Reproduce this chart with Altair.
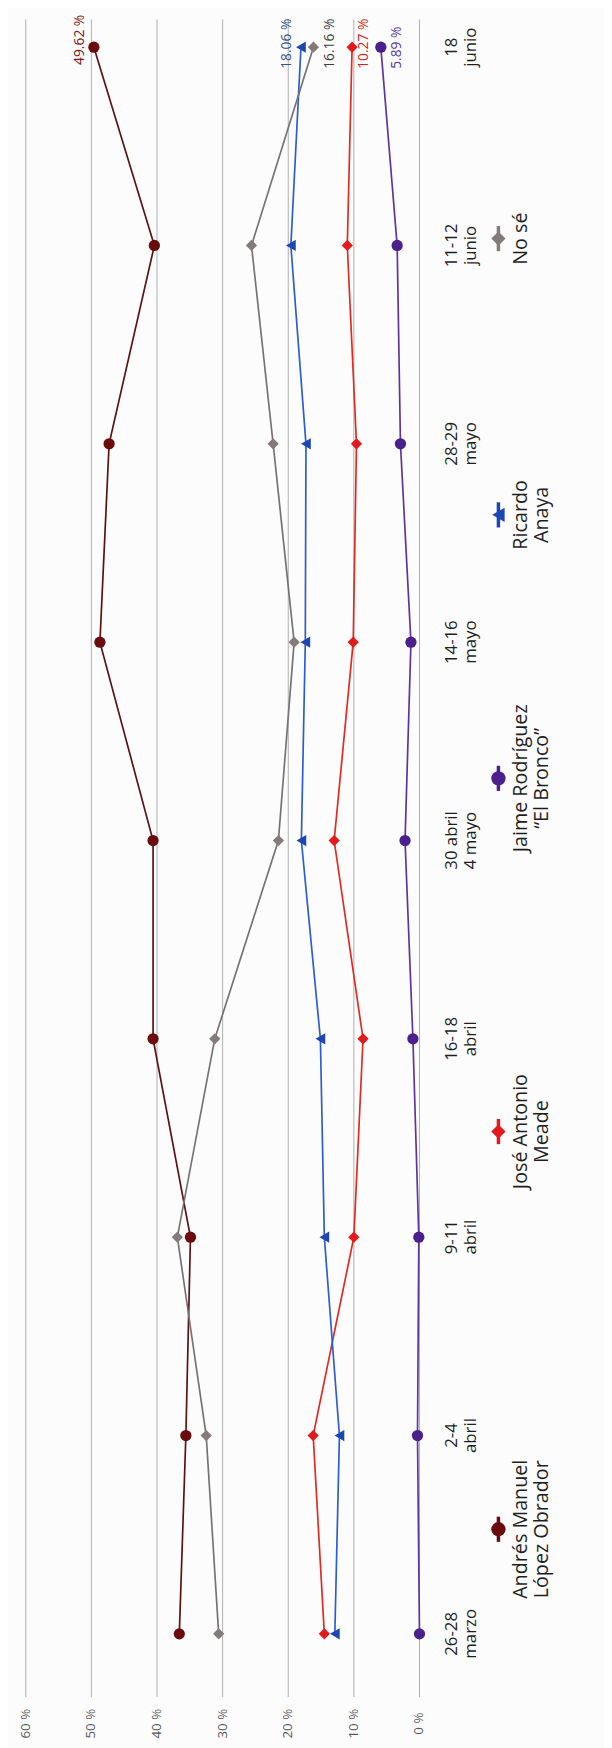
import altair as alt
import pandas as pd

# ---- data ----
dates = ["26-28\nmarzo", "2-4\nabril", "9-11\nabril", "16-18\nabril", "30 abril\n4 mayo",
         "14-16\nmayo", "28-29\nmayo", "11-12\njunio", "18\njunio"]
amlo = [36.6, 35.6, 34.9, 40.6, 40.6, 48.7, 47.3, 40.4, 49.62]
meade = [14.5, 16.2, 10.0, 8.6, 13.0, 10.1, 9.6, 11.0, 10.27]
anaya = [12.9, 12.2, 14.5, 15.1, 18.0, 17.4, 17.3, 19.6, 18.06]
bronco = [0.0, 0.3, 0.1, 1.0, 2.2, 1.3, 2.9, 3.4, 5.89]
nose = [30.6, 32.5, 36.9, 31.2, 21.5, 19.1, 22.3, 25.6, 16.16]

series_names = ["AMLO", "Meade", "Bronco", "Anaya", "NoSe"]
legend_labels = ["Andrés Manuel\nLópez Obrador", "José Antonio\nMeade",
                 "Jaime Rodríguez\n“El Bronco”", "Ricardo\nAnaya", "No sé"]
grid_values = [0, 10, 20, 30, 40, 50, 60]
grid_labels = ["0 %", "10 %", "20 %", "30 %", "40 %", "50 %", "60 %"]
final_labels = ["49.62 %", "10.27 %", "5.89 %", "18.06 %", "16.16 %"]

# ---- styles / layout ----
marker_colors = ["#6a0c0e", "#e3191b", "#4b1f8c", "#1c46b2", "#857a7a"]
line_colors = ["#5a1113", "#e02a22", "#5b34a0", "#2c5cce", "#777272"]
label_colors = ["#7a1818", "#d61e1e", "#5b3a9c", "#34508f", "#3c3c3c"]
shapes = ["circle", "diamond", "circle", "triangle-left", "diamond"]
label_offsets = [(-14, -18), (12, -22), (16, -22), (-14, -22), (17, -22)]  # (dy, dx)
legend_y = [1530, 1127, 769, 502, 222]
FONT = "Open Sans"

rows = []
for name, vals in zip(series_names, [amlo, meade, bronco, anaya, nose]):
    for i, v in enumerate(vals):
        rows.append({"serie": name, "i": i, "v": v})
df = pd.DataFrame(rows)
dates_df = pd.DataFrame({"i": list(range(len(dates))), "label": dates})
grid_df = pd.DataFrame({"g": grid_values, "lab": grid_labels})

xs = alt.Scale(domain=[0, 60], range=[417, 18], nice=False, zero=False)
ys = alt.Scale(domain=[0, 8], range=[1636, 28], nice=False, zero=False)
col_line = alt.Scale(domain=series_names, range=line_colors)
col_mark = alt.Scale(domain=series_names, range=marker_colors)
shp = alt.Scale(domain=series_names, range=shapes)

X = alt.X("v:Q", scale=xs, axis=None)
Y = alt.Y("i:Q", scale=ys, axis=None)

grid = alt.Chart(grid_df).mark_rule(color="#aeaeae", strokeWidth=1).encode(
    x=alt.X("g:Q", scale=xs, axis=None), y=alt.value(0), y2=alt.value(1700))
grid_text = alt.Chart(grid_df).mark_text(angle=270, align="center", baseline="middle",
                                         fontSize=13.5, font=FONT, color="#555").encode(
    x=alt.X("g:Q", scale=xs, axis=None), y=alt.value(1727), text="lab:N")

lines = alt.Chart(df).mark_line(strokeWidth=1.7).encode(
    x=X, y=Y, order=alt.Order("i:Q"),
    color=alt.Color("serie:N", scale=col_line, legend=None))
points = alt.Chart(df).mark_point(filled=True, opacity=1, size=130).encode(
    x=X, y=Y,
    color=alt.Color("serie:N", scale=col_mark, legend=None),
    shape=alt.Shape("serie:N", scale=shp, legend=None))

date_text = alt.Chart(dates_df).mark_text(angle=270, align="center", baseline="middle",
                                          fontSize=17, lineHeight=19, lineBreak="\n",
                                          font=FONT, color="#1e1e1e").encode(
    x=alt.value(450), y=Y, text="label:N")

value_labels = []
last = df[df["i"] == 8]
for name, txt, colr, (ddy, ddx) in zip(series_names, final_labels, label_colors, label_offsets):
    d = last[last["serie"] == name].assign(t=txt)
    value_labels.append(
        alt.Chart(d).mark_text(angle=270, align="left", baseline="middle", fontSize=14,
                               font=FONT, color=colr, dx=ddx, dy=ddy).encode(
            x=X, y=Y, text="t:N"))

legend_layers = []
for k, (name, lab, ly) in enumerate(zip(series_names, legend_labels, legend_y)):
    d = pd.DataFrame({"serie": [name], "label": [lab]})
    legend_layers.append(
        alt.Chart(d).mark_point(shape="M0,-1L0,1", filled=False, strokeWidth=3.5,
                                size=650, opacity=1).encode(
            x=alt.value(497), y=alt.value(ly),
            color=alt.Color("serie:N", scale=col_mark, legend=None)))
    legend_layers.append(
        alt.Chart(d).mark_point(filled=True, size=210, opacity=1).encode(
            x=alt.value(497), y=alt.value(ly),
            color=alt.Color("serie:N", scale=col_mark, legend=None),
            shape=alt.Shape("serie:N", scale=shp, legend=None)))
    legend_layers.append(
        alt.Chart(d).mark_text(angle=270, align="center", baseline="top",
                               fontSize=20, lineHeight=21, lineBreak="\n",
                               font=FONT, color="#1e1e1e").encode(
            x=alt.value(510), y=alt.value(ly), text="label:N"))

chart = alt.layer(grid, grid_text, lines, points, date_text, *value_labels,
                  *legend_layers).resolve_scale(
    y="independent", x="independent", color="independent", shape="independent"
).properties(
    width=604, height=1740, autosize="none", padding=0, background="#fcfcfc"
).configure_view(stroke=None)

chart.save("out.html", embed_options={"renderer": "svg", "actions": False})
